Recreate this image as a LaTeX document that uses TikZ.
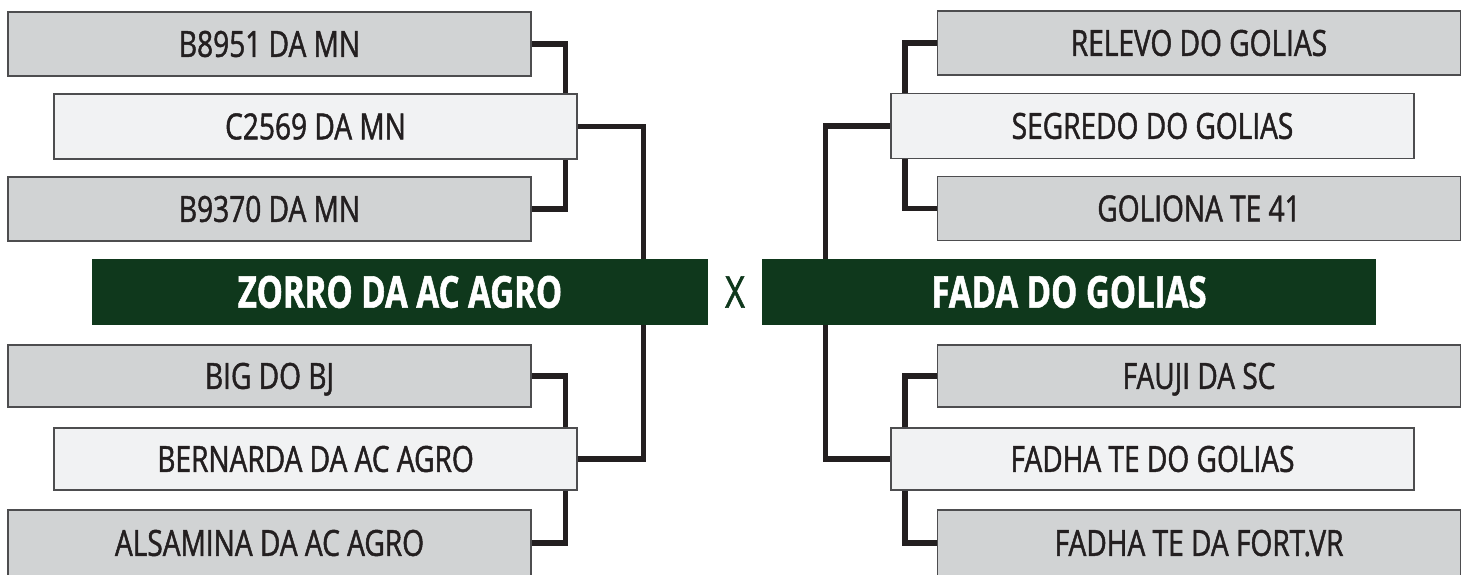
\documentclass[tikz,border=0pt]{standalone}
\usepackage{fontspec}
\setmainfont{Open Sans}
\newfontfamily\regf{Open Sans}[FakeStretch=0.78, FakeBold=1.3]
\newfontfamily\boldf{Open Sans}[FakeStretch=0.75, FakeBold=1.2]
\definecolor{boxgray}{HTML}{D1D3D4}
\definecolor{boxlight}{HTML}{F1F2F3}
\definecolor{boxline}{HTML}{4D4D4F}
\definecolor{ink}{HTML}{231F20}
\definecolor{forest}{HTML}{0F381C}
\pgfdeclarelayer{bg}
\pgfsetlayers{bg,main}
\tikzset{
  entry/.style={draw=boxline, line width=1.2pt, minimum width=523pt, minimum height=64pt,
    inner sep=0pt, text=ink, font=\regf\fontsize{36}{36}\selectfont, text height=25.7pt, text depth=0pt},
  outerbox/.style={entry, fill=boxgray},
  midbox/.style={entry, fill=boxlight},
  finalbox/.style={fill=forest, minimum height=66pt, inner sep=0pt, text=white,
    font=\boldf\bfseries\fontsize{44}{44}\selectfont, text height=31.4pt, text depth=0pt},
  conn/.style={draw=ink, line width=5.5pt, line join=miter}
}
\begin{document}
\begin{tikzpicture}[x=1pt,y=-1pt]
\useasboundingbox (0,0) rectangle (1469,574);
\clip (0,0) rectangle (1469,574);
% left bracket
\node[outerbox] (l1) at (269.5,44) {B8951 DA MN};
\node[midbox, minimum height=65pt] (l2) at (315.5,126.5) {C2569 DA MN};
\node[outerbox] (l3) at (269.5,209) {B9370 DA MN};
\node[outerbox, minimum height=62pt] (l4) at (269.5,376) {BIG DO BJ};
\node[midbox, minimum height=62pt] (l5) at (315.5,459) {BERNARDA DA AC AGRO};
\node[outerbox, minimum height=66pt] (l6) at (269.5,543) {ALSAMINA DA AC AGRO};
% right bracket
\node[outerbox] (r1) at (1199,43) {RELEVO DO GOLIAS};
\node[midbox, minimum height=65pt] (r2) at (1152.5,126) {SEGREDO DO GOLIAS};
\node[outerbox] (r3) at (1199,208.5) {GOLIONA TE 41};
\node[outerbox, minimum height=62pt] (r4) at (1199,376) {FAUJI DA SC};
\node[midbox, minimum height=62pt] (r5) at (1152.5,459) {FADHA TE DO GOLIAS};
\node[outerbox, minimum height=66pt] (r6) at (1199,543) {FADHA TE DA FORT.VR};
% finalists
\node[finalbox, minimum width=616pt] (fl) at (400,292) {ZORRO DA AC AGRO};
\node[finalbox, minimum width=614pt] (fr) at (1069,292) {FADA DO GOLIAS};
\node[text=forest, inner sep=0pt, font=\regf\fontsize{44}{44}\selectfont, text height=31.4pt, text depth=0pt] (vs) at (735,292) {X};
% connectors
\begin{pgfonlayer}{bg}
\draw[conn] (l1.east) -- ++(34,0) |- (l3.east);
\draw[conn] (l4.east) -- ++(34,0) |- (l6.east);
\draw[conn] (l2.east) -- ++(66,0) |- (l5.east);
\draw[conn] (r1.west) -- ++(-32,0) |- (r3.west);
\draw[conn] (r4.west) -- ++(-32,0) |- (r6.west);
\draw[conn] (r2.west) -- ++(-65,0) |- (r5.west);
\end{pgfonlayer}
\end{tikzpicture}
\end{document}
